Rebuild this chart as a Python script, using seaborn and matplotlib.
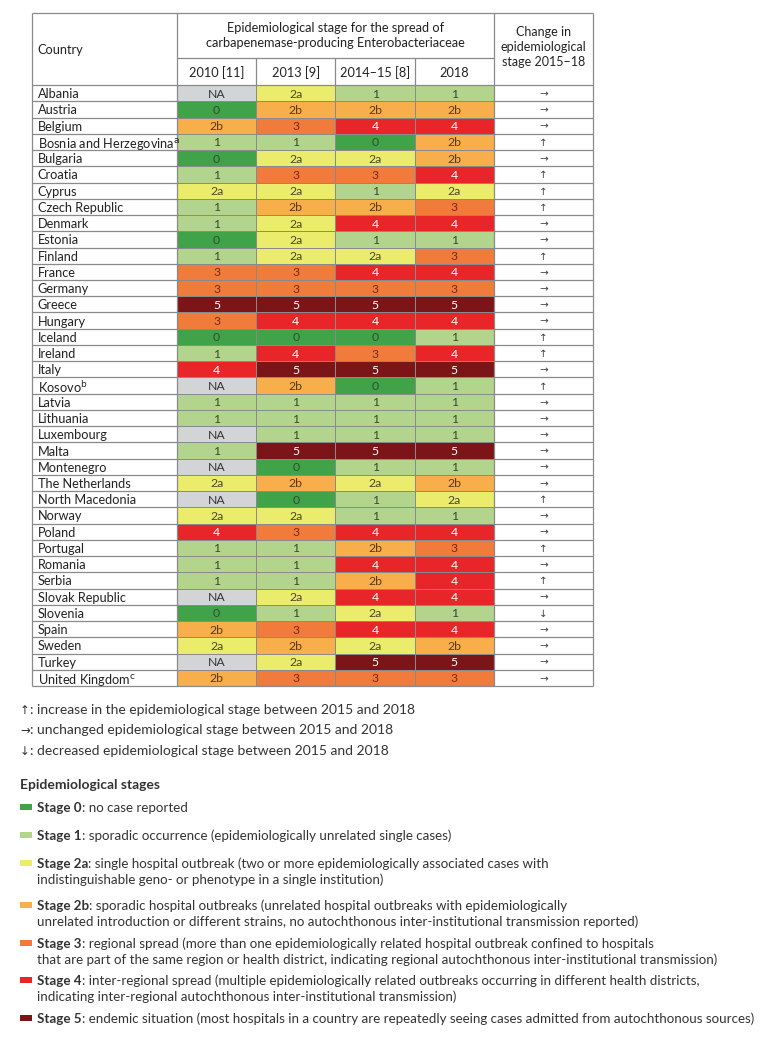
import numpy as np
import pandas as pd
import matplotlib.pyplot as plt
import seaborn as sns
from matplotlib.colors import ListedColormap
from matplotlib.patches import Rectangle

# Table data
countries = ['Albania', 'Austria', 'Belgium', 'Bosnia and Herzegovina$^{\\rm a}$', 'Bulgaria',
             'Croatia', 'Cyprus', 'Czech Republic', 'Denmark', 'Estonia', 'Finland', 'France',
             'Germany', 'Greece', 'Hungary', 'Iceland', 'Ireland', 'Italy', 'Kosovo$^{\\rm b}$',
             'Latvia', 'Lithuania', 'Luxembourg', 'Malta', 'Montenegro', 'The Netherlands',
             'North Macedonia', 'Norway', 'Poland', 'Portugal', 'Romania', 'Serbia',
             'Slovak Republic', 'Slovenia', 'Spain', 'Sweden', 'Turkey', 'United Kingdom$^{\\rm c}$']
y2010 = ['NA', '0', '2b', '1', '0', '1', '2a', '1', '1', '0', '1', '3', '3', '5', '3', '0', '1',
         '4', 'NA', '1', '1', 'NA', '1', 'NA', '2a', 'NA', '2a', '4', '1', '1', '1', 'NA', '0',
         '2b', '2a', 'NA', '2b']
y2013 = ['2a', '2b', '3', '1', '2a', '3', '2a', '2b', '2a', '2a', '2a', '3', '3', '5', '4', '0',
         '4', '5', '2b', '1', '1', '1', '5', '0', '2b', '0', '2a', '3', '1', '1', '1', '2a', '1',
         '3', '2b', '2a', '3']
y2015 = ['1', '2b', '4', '0', '2a', '3', '1', '2b', '4', '1', '2a', '4', '3', '5', '4', '0', '3',
         '5', '0', '1', '1', '1', '5', '1', '2a', '1', '1', '4', '2b', '4', '2b', '4', '2a', '4',
         '2a', '5', '3']
y2018 = ['1', '2b', '4', '2b', '2b', '4', '2a', '3', '4', '1', '3', '4', '3', '5', '4', '1', '4',
         '5', '1', '1', '1', '1', '5', '1', '2b', '2a', '1', '4', '3', '4', '4', '4', '1', '4',
         '2b', '5', '3']
change = ['→', '→', '→', '↑', '→', '↑', '↑', '↑', '→', '→', '↑', '→', '→', '→', '→', '↑', '↑',
          '→', '↑', '→', '→', '→', '→', '→', '→', '↑', '→', '→', '↑', '→', '↑', '→', '↓', '→',
          '→', '→', '→']
periods = ['2010 [11]', '2013 [9]', '2014–15 [8]', '2018']

stage_codes = ['NA', '0', '1', '2a', '2b', '3', '4', '5']
stage_colors = ['#d3d4d6', '#41a349', '#b3d48d', '#ecec6c', '#f8ae4b', '#f07b3b', '#e8262a', '#7c1517']
text_colors = ['#333333', '#2f4f2f', '#3b4a2b', '#4a4a2a', '#5a3a1a', '#7a2a10', 'white', 'white']

legend_labels = ['0', '1', '2a', '2b', '3', '4', '5']
legend_texts = [
    'no case reported',
    'sporadic occurrence (epidemiologically unrelated single cases)',
    'single hospital outbreak (two or more epidemiologically associated cases with\n'
    'indistinguishable geno- or phenotype in a single institution)',
    'sporadic hospital outbreaks (unrelated hospital outbreaks with epidemiologically\n'
    'unrelated introduction or different strains, no autochthonous inter-institutional transmission reported)',
    'regional spread (more than one epidemiologically related hospital outbreak confined to hospitals\n'
    'that are part of the same region or health district, indicating regional autochthonous inter-institutional transmission)',
    'inter-regional spread (multiple epidemiologically related outbreaks occurring in different health districts,\n'
    'indicating inter-regional autochthonous inter-institutional transmission)',
    'endemic situation (most hospitals in a country are repeatedly seeing cases admitted from autochthonous sources)',
]
arrows = ['↑', '→', '↓']
arrow_notes = [': increase in the epidemiological stage between 2015 and 2018',
               ': unchanged epidemiological stage between 2015 and 2018',
               ': decreased epidemiological stage between 2015 and 2018']

plt.rcParams['font.family'] = ['Lato', 'DejaVu Sans']
plt.rcParams['mathtext.default'] = 'regular'

df = pd.DataFrame(dict(zip(periods, [y2010, y2013, y2015, y2018])), index=countries)
codes = df.apply(lambda s: s.map(stage_codes.index))

W, H = 772, 1039
fig = plt.figure(figsize=(W / 100, H / 100), dpi=100)
ax = fig.add_axes([32 / W, 1 - 686 / H, (593 - 32) / W, (686 - 13) / H])

grid = '#8a8a8a'
sns.heatmap(codes, cmap=ListedColormap(stage_colors), vmin=-0.5, vmax=7.5, annot=df.values,
            fmt='', cbar=False, linewidths=0.6, linecolor=grid,
            annot_kws={'fontsize': 8.8}, ax=ax)
for t in ax.texts:
    t.set_color(text_colors[stage_codes.index(t.get_text())])
    t.set_va('center_baseline')

n = len(countries)
cx0, cx1 = -1.83, 5.25
h1, h2 = -4.44, -1.66
ax.set_xlim(cx0, cx1)
ax.set_ylim(n, h1)
ax.set_xticks([])
ax.set_yticks([])
ax.set_xlabel('')
ax.set_ylabel('')

# table rules
kw = dict(color=grid, lw=0.9, clip_on=False)
ax.vlines([cx0, 0, 4, cx1], h1, n, **kw)
ax.vlines([1, 2, 3], h2, 0, **kw)
ax.hlines([h1, 0, n], cx0, cx1, **kw)
ax.hlines(h2, 0, 4, **kw)
ax.hlines(np.arange(1, n), cx0, 0, **kw)
ax.hlines(np.arange(1, n), 4, cx1, **kw)

# header
fs = 9.2
ax.text(cx0 + 0.07, h1 / 2, 'Country', ha='left', va='center_baseline', fontsize=fs, color='#222')
ax.text(2, (h1 + h2) / 2, 'Epidemiological stage for the spread of\ncarbapenemase-producing Enterobacteriaceae',
        ha='center', va='center', fontsize=fs, color='#222', linespacing=1.3)
for j, p in enumerate(periods):
    ax.text(j + 0.5, h2 / 2, p, ha='center', va='center_baseline', fontsize=fs, color='#222')
ax.text((4 + cx1) / 2, h1 / 2 - 0.1, 'Change in\nepidemiological\nstage 2015–18', ha='center',
        va='center', fontsize=9, color='#222', linespacing=1.3)

# body text
for i, (c, a) in enumerate(zip(countries, change)):
    ax.text(cx0 + 0.07, i + 0.5, c, ha='left', va='center_baseline', fontsize=fs, color='#222')
    ax.text((4 + cx1) / 2, i + 0.5, a, ha='center', va='center_baseline', fontsize=7.5,
            color='#444', family=['DejaVu Sans'])

renderer = fig.canvas.get_renderer()

# arrow notes
lfs = 9.6
for k, note in enumerate(arrow_notes):
    yc = 1 - [709, 729, 750][k] / H
    a = fig.text(20 / W, yc, arrows[k], ha='left', va='center_baseline', fontsize=8.5,
                 color='#333', family=['DejaVu Sans'])
    x1 = a.get_window_extent(renderer).x1 / W
    fig.text(x1, yc, note, ha='left', va='center_baseline', fontsize=10, color='#333')

fig.text(20 / W, 1 - 784 / H, 'Epidemiological stages', ha='left', va='center_baseline',
         fontsize=10, fontweight='bold', color='#333')

rows_y = [807, 835, 863, 905, 943, 980, 1018]
for k, (lab, txt) in enumerate(zip(legend_labels, legend_texts)):
    yc = 1 - rows_y[k] / H
    fig.patches.append(Rectangle((20 / W, yc - 3 / H), 12 / W, 6 / H, transform=fig.transFigure,
                                 facecolor=stage_colors[k + 1], edgecolor='none'))
    b = fig.text(37 / W, yc, f'Stage {lab}', ha='left', va='center_baseline', fontsize=lfs,
                 fontweight='bold', color='#333')
    x1 = b.get_window_extent(renderer).x1 / W
    lines = txt.split('\n')
    fig.text(x1, yc, ': ' + lines[0], ha='left', va='center_baseline', fontsize=lfs, color='#333')
    if len(lines) > 1:
        fig.text(37 / W, yc - 15.5 / H, lines[1], ha='left', va='center_baseline', fontsize=lfs,
                 color='#333')

fig.savefig('out.png', dpi=100, facecolor='white')
